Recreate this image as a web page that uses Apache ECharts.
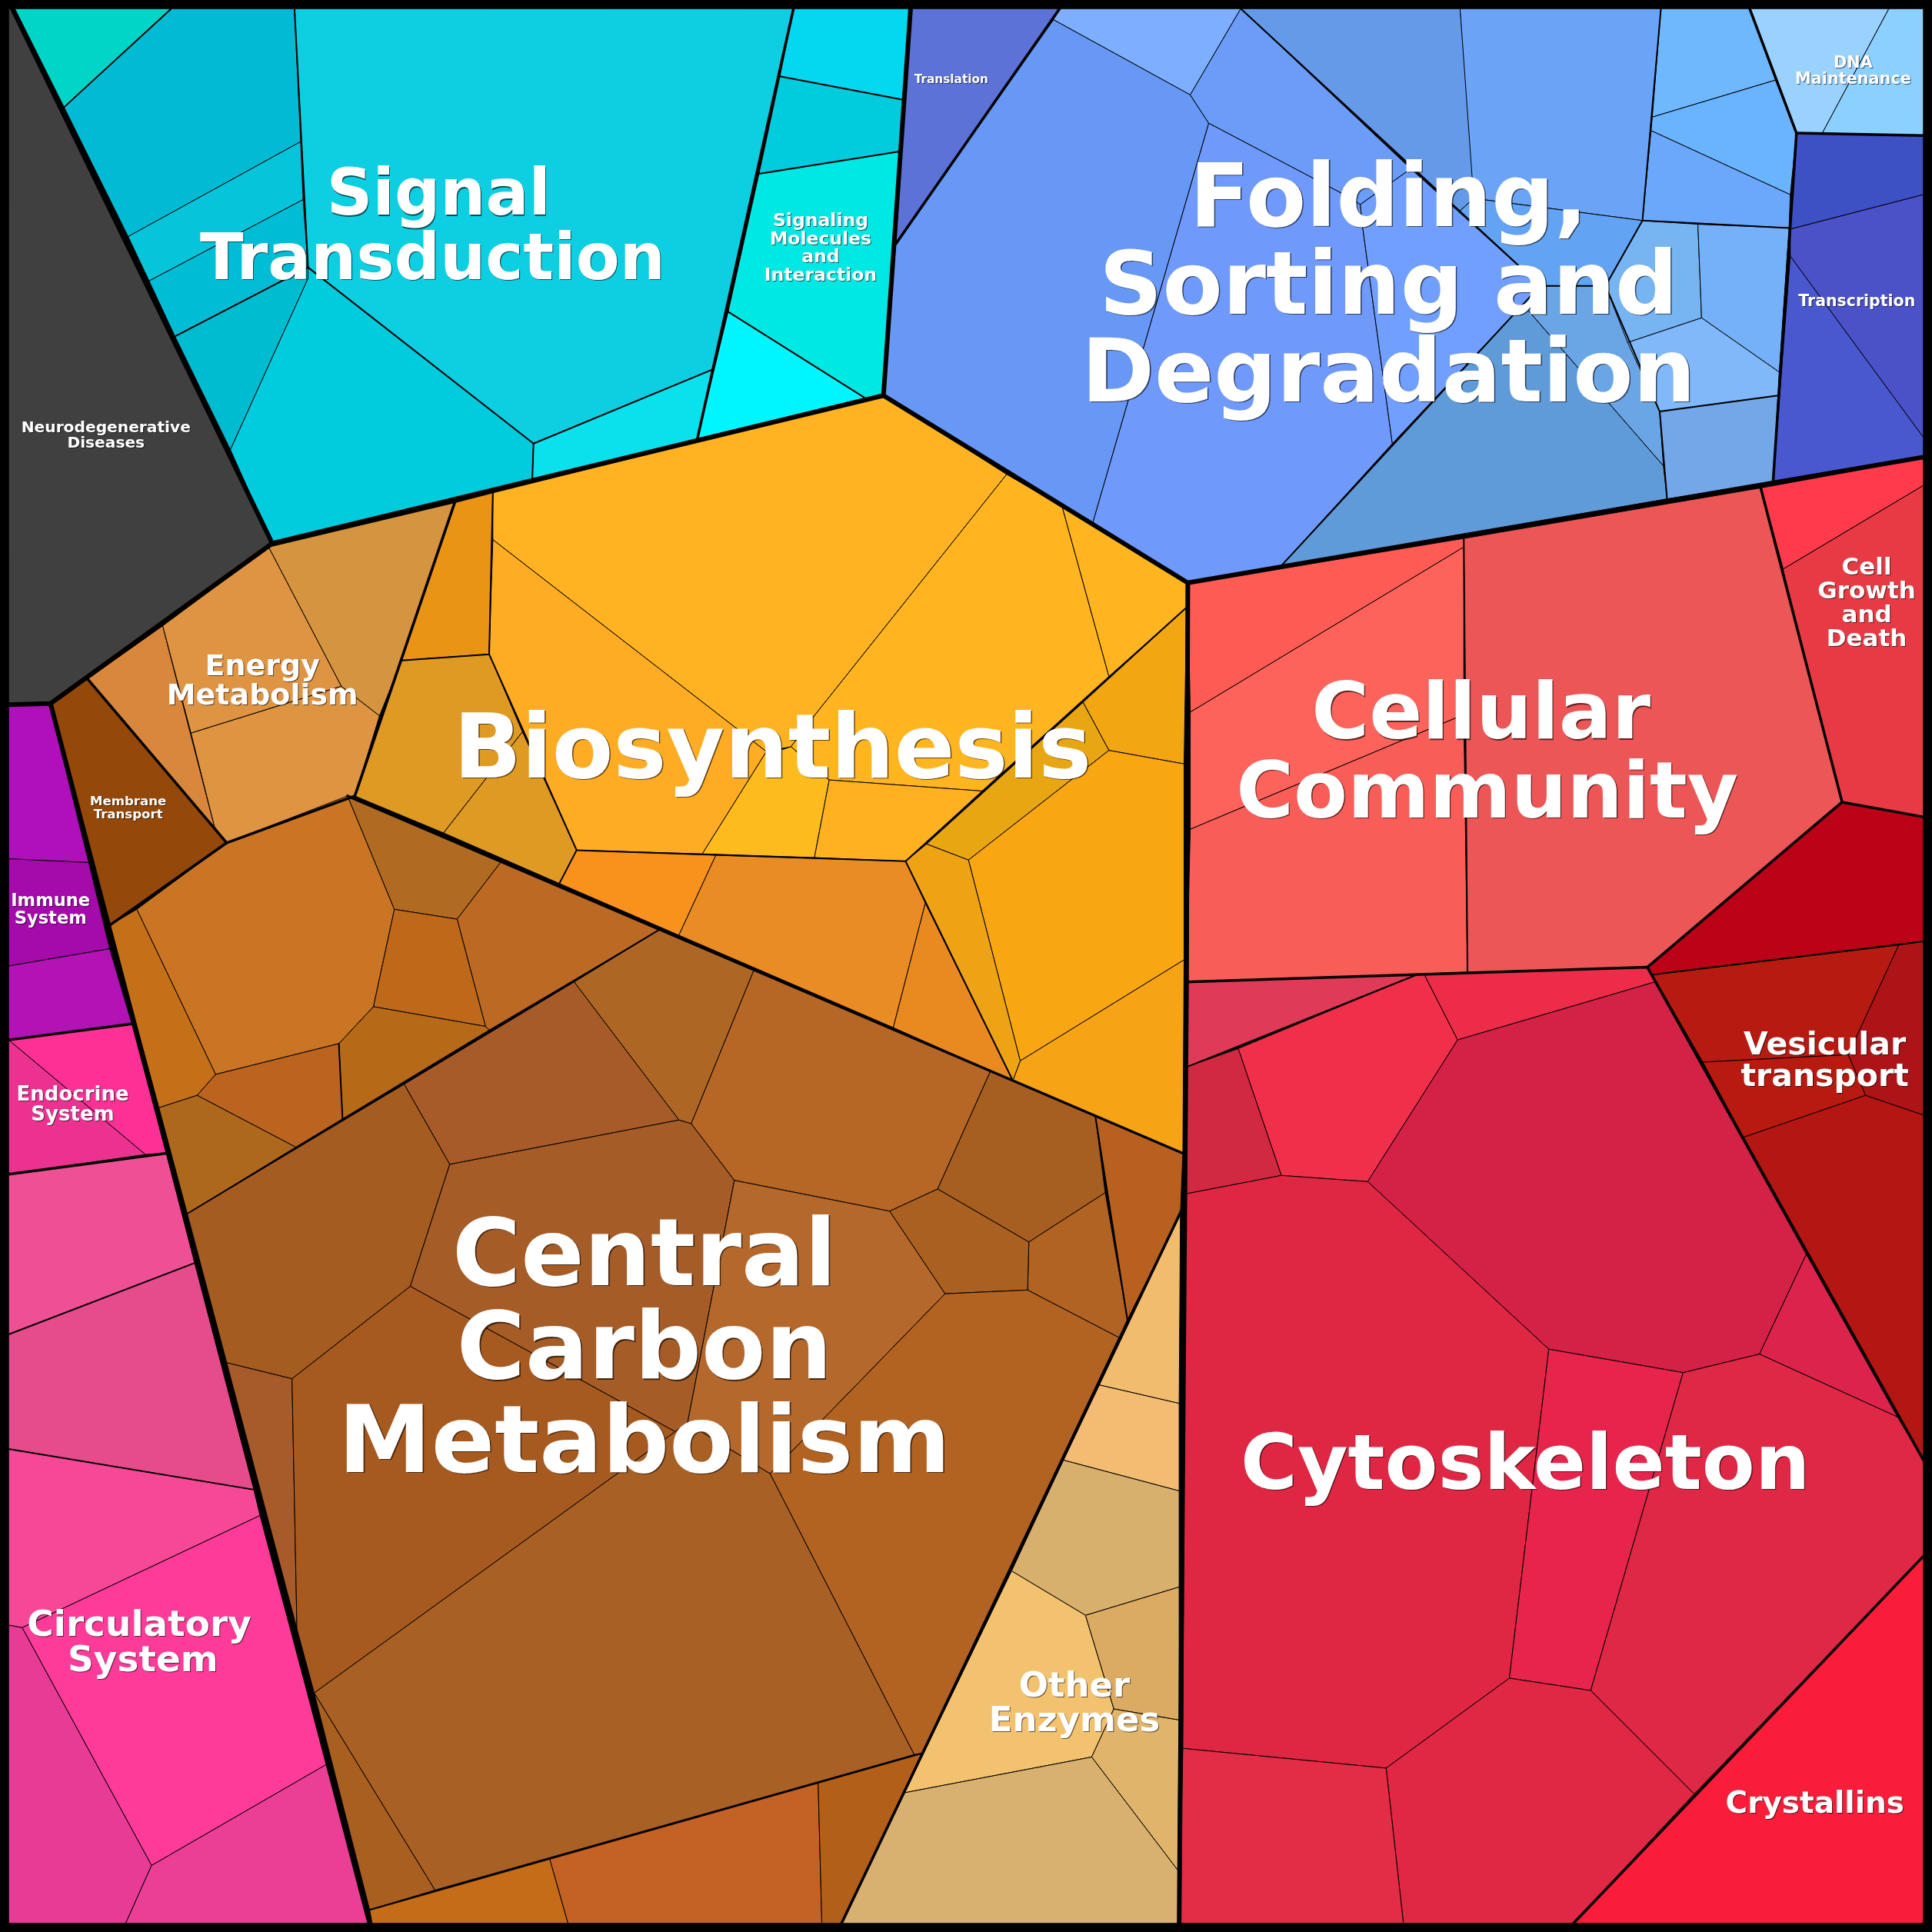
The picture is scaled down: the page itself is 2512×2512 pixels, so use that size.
<!DOCTYPE html>
<html lang="en">
<head>
    <meta charset="UTF-8">
    <title>Proteomap</title>
    <script type="text/javascript" src="https://cdnjs.cloudflare.com/ajax/libs/echarts/6.0.0/echarts.min.js"></script>
    <style>
        html, body { margin: 0; background: #000; }
    </style>
</head>
<body>
    <div id="main" style="width: 2512px;height:2512px;"></div>
    <script type="text/javascript">
        // cell outlines in treemap units (0 - 1568)
        const signalCells = [
            [[12,7],[139,7],[52,87]],
            [[139,7],[239,7],[244,115],[104,192],[52,87]],
            [[244,115],[246,162],[121,228],[104,192]],
            [[246,162],[250,217],[142,273],[121,228]],
            [[250,217],[250,226],[187,365],[142,273]],
            [[250,217],[433,360],[432,389],[221,441],[187,365],[250,226]],
            [[239,7],[644,7],[578,300],[433,360],[250,217]],
            [[433,360],[578,300],[566,356],[432,389]],
            [[644,7],[739,7],[733,81],[633,62]],
            [[633,62],[733,81],[730,123],[616,141]],
            [[616,141],[730,123],[717,321],[702,323],[591,253]],
            [[591,253],[702,323],[566,356]]
        ];
        const geneticCells = [
            [[739,7],[860,7],[727,198]],
            [[859,7],[1007,7],[966,77],[855,16]],
            [[727,198],[855,16],[966,77],[981,100],[887,424],[717,321]],
            [[1007,7],[1145,137],[1104,166],[1091,158],[981,100],[966,77]],
            [[981,100],[1091,158],[1104,166],[1106,185],[1130,360],[1040,459],[964,473],[887,424]],
            [[1104,166],[1145,137],[1232,215],[1250,232],[1236,247],[1130,360],[1106,185]],
            [[1007,7],[1185,7],[1196,146],[1196,161],[1184,172]],
            [[1185,7],[1348,7],[1333,179],[1196,161]],
            [[1196,161],[1333,179],[1303,232],[1250,232],[1184,172]],
            [[1236,247],[1350,378],[1353,405],[1040,459]],
            [[1250,232],[1303,232],[1347,334],[1350,378],[1236,247]],
            [[1348,7],[1420,7],[1441,65],[1341,95]],
            [[1341,95],[1441,65],[1458,108],[1453,158],[1340,106]],
            [[1340,106],[1453,158],[1452,185],[1333,179]],
            [[1333,179],[1378,182],[1381,258],[1321,278],[1303,232]],
            [[1378,182],[1452,185],[1444,302],[1381,258]],
            [[1381,258],[1444,302],[1443,321],[1347,334],[1321,278]],
            [[1347,334],[1443,321],[1439,391],[1353,405]],
            [[1420,7],[1533,7],[1479,108],[1458,108]],
            [[1533,7],[1561,7],[1561,110],[1479,108]],
            [[1458,108],[1561,110],[1561,158],[1453,186]],
            [[1453,186],[1561,158],[1561,355],[1453,208]],
            [[1453,208],[1561,355],[1561,371],[1439,391]]
        ];
        const energyCells = [
            [[218,444],[369,408],[326,536],[308,581],[277,557]],
            [[218,444],[277,557],[155,595],[132,508]],
            [[155,595],[277,557],[308,581],[288,646],[184,684],[174,671]],
            [[71,551],[132,508],[174,671],[184,684]],
            [[41,571],[71,551],[184,684],[89,751]]
        ];
        const biosynthesisCells = [
            [[369,408],[400,400],[397,531],[326,536]],
            [[326,536],[397,531],[424,594],[360,676],[288,646]],
            [[424,594],[468,690],[454,717],[360,676]],
            [[400,400],[717,321],[817,385],[660,582],[642,606],[622,610],[400,438]],
            [[400,438],[622,610],[570,693],[468,690],[397,531]],
            [[622,610],[636,608],[642,606],[673,633],[661,696],[570,693]],
            [[817,385],[862,411],[900,549],[797,642],[673,633],[642,606],[660,582]],
            [[673,633],[797,642],[735,699],[661,696]],
            [[862,411],[964,473],[963,493],[900,549]],
            [[963,493],[961,620],[900,609],[879,570]],
            [[879,570],[900,609],[786,698],[752,685]],
            [[900,609],[961,620],[961,779],[828,861],[786,698]],
            [[961,779],[960,936],[822,877],[828,861]],
            [[735,699],[752,685],[786,698],[828,861],[822,877]],
            [[468,690],[581,694],[551,759],[454,717]],
            [[581,694],[735,699],[751,733],[725,834],[551,759]],
            [[751,733],[822,877],[725,834]]
        ];
        const carbonCells = [
            [[282,646],[407,699],[371,746],[320,738]],
            [[407,699],[536,754],[397,836],[394,833],[371,746]],
            [[320,738],[371,746],[394,833],[303,817]],
            [[303,817],[394,833],[397,836],[278,908],[275,847]],
            [[184,684],[282,646],[320,738],[303,817],[275,847],[175,872],[111,738]],
            [[89,751],[111,738],[175,872],[160,889],[129,899]],
            [[160,889],[175,872],[275,847],[278,908],[240,931]],
            [[129,899],[160,889],[240,931],[152,985]],
            [[536,754],[612,787],[561,912],[551,909],[466,797]],
            [[466,797],[551,909],[365,945],[328,880]],
            [[612,787],[804,869],[761,965],[722,983],[596,958],[561,912]],
            [[804,869],[889,906],[897,968],[835,1008],[761,965]],
            [[889,906],[960,936],[958,985],[915,1071]],
            [[897,968],[915,1071],[909,1086],[834,1047],[835,1008]],
            [[761,965],[835,1008],[834,1047],[767,1050],[722,983]],
            [[152,985],[328,880],[365,945],[333,1044],[237,1119],[184,1106]],
            [[365,945],[551,909],[561,912],[596,958],[558,1155],[548,1162],[333,1044]],
            [[184,1106],[237,1119],[241,1322]],
            [[333,1044],[548,1162],[255,1374],[241,1322],[237,1119]],
            [[548,1162],[558,1155],[625,1196],[742,1424],[353,1534],[255,1374]],
            [[596,958],[722,983],[767,1050],[625,1196],[558,1155]],
            [[767,1050],[834,1047],[909,1086],[915,1071],[748,1423],[742,1424],[625,1196]],
            [[255,1374],[353,1534],[300,1550]],
            [[300,1550],[446,1508],[461,1561],[302,1561]],
            [[446,1508],[664,1447],[667,1561],[461,1561]],
            [[664,1447],[748,1423],[683,1561],[667,1561]]
        ];
        const enzymeCells = [
            [[958,985],[957,1139],[892,1124]],
            [[892,1124],[957,1139],[957,1210],[863,1185]],
            [[863,1185],[957,1210],[957,1288],[881,1311],[821,1275]],
            [[821,1275],[881,1311],[904,1387],[886,1426],[734,1455]],
            [[881,1311],[957,1288],[957,1396],[904,1387]],
            [[904,1387],[957,1396],[956,1518],[886,1426]],
            [[734,1455],[886,1426],[956,1518],[956,1561],[683,1561]]
        ];
        const cellularCells = [
            [[964,474],[1188,437],[1188,444],[966,578]],
            [[966,578],[1188,444],[1188,580],[966,673]],
            [[966,673],[1188,580],[1191,789],[963,797]],
            [[1188,437],[1429,396],[1495,651],[1337,785],[1191,789]],
            [[1429,396],[1561,372],[1561,394],[1447,462]],
            [[1447,462],[1561,394],[1561,663],[1495,651]],
            [[1337,785],[1495,651],[1561,663],[1561,764],[1341,791]],
            [[1341,791],[1541,767],[1500,856],[1382,862]],
            [[1541,767],[1561,764],[1561,905],[1514,889],[1500,856]],
            [[1382,862],[1500,856],[1514,889],[1415,923]],
            [[1415,923],[1514,889],[1561,905],[1561,1185]]
        ];
        const cytoskeletonCells = [
            [[964,797],[1150,791],[963,866]],
            [[963,866],[1005,851],[1040,954],[962,969]],
            [[1005,851],[1150,791],[1156,791],[1183,844],[1110,959],[1040,954]],
            [[1156,791],[1337,785],[1343,797],[1183,844]],
            [[1183,844],[1343,797],[1466,1018],[1428,1099],[1366,1114],[1257,1095],[1110,959]],
            [[1466,1018],[1540,1150],[1428,1099]],
            [[962,969],[1040,954],[1110,959],[1257,1095],[1225,1362],[1125,1435],[960,1419]],
            [[1257,1095],[1366,1114],[1291,1372],[1225,1362]],
            [[1366,1114],[1428,1099],[1540,1150],[1561,1185],[1561,1263],[1375,1456],[1291,1372]],
            [[1225,1362],[1291,1372],[1375,1456],[1277,1561],[1139,1561],[1125,1435]],
            [[960,1419],[1125,1435],[1139,1561],[957,1561]],
            [[1561,1263],[1561,1561],[1277,1561],[1375,1456]]
        ];
        const organismalCells = [
            [[7,7],[10,7],[221,441],[41,571],[7,572]],
            [[7,571],[40,571],[72,700],[7,697]],
            [[7,697],[72,700],[89,770],[7,784]],
            [[7,784],[89,770],[107,831],[7,844]],
            [[7,844],[107,831],[135,936],[118,937]],
            [[7,844],[118,937],[7,953]],
            [[7,953],[135,936],[158,1025],[7,1083]],
            [[7,1083],[158,1025],[206,1209],[7,1176]],
            [[7,1176],[206,1209],[211,1230],[18,1321],[7,1319]],
            [[18,1321],[211,1230],[265,1432],[123,1514]],
            [[7,1319],[18,1321],[123,1514],[102,1561],[7,1561]],
            [[123,1514],[265,1432],[300,1561],[102,1561]]
        ];

        // borders between groups, from the outermost level inwards
        const familyBorders = [
            [[10,7],[221,441],[41,571],[7,572]],
            [[739,7],[717,321]],
            [[221,441],[717,321],[964,473],[1561,371]],
            [[41,571],[300,1561]],
            [[964,473],[963,797],[957,1561]]
        ];
        const pathwayBorders = [
            [[644,7],[566,356]],
            [[860,7],[727,198]],
            [[1420,7],[1458,108],[1439,391]],
            [[1458,108],[1561,110]],
            [[369,408],[288,646],[184,684],[71,551]],
            [[184,684],[89,751]],
            [[282,646],[960,936]],
            [[960,980],[683,1561]],
            [[7,844],[107,831]],
            [[7,953],[135,936]],
            [[963,797],[1337,785],[1561,1185]],
            [[1337,785],[1495,651],[1429,396]],
            [[1495,651],[1561,663]],
            [[1561,1263],[1277,1561]]
        ];
        const groupBorders = [
            [[139,7],[52,87]],
            [[239,7],[250,217],[142,273]],
            [[250,217],[433,360],[578,300]],
            [[433,360],[432,389]],
            [[633,62],[733,81]],
            [[616,141],[730,123]],
            [[591,253],[702,323]],
            [[1007,7],[1232,215],[1250,232],[1303,232]],
            [[1250,232],[1040,459]],
            [[1348,7],[1333,179],[1452,185]],
            [[1333,179],[1303,232],[1347,334],[1353,405]],
            [[1347,334],[1443,321]],
            [[400,400],[397,531],[326,536]],
            [[397,531],[468,690],[454,717]],
            [[468,690],[735,699],[963,493]],
            [[735,699],[822,877]],
            [[536,754],[152,985]],
            [[889,906],[915,1071]],
            [[300,1550],[748,1423]],
            [[275,847],[278,908]],
            [[7,1176],[206,1209]],
            [[7,1083],[158,1025]],
            [[963,866],[1150,791]],
            [[1188,437],[1191,789]],
            [[1341,791],[1561,764]],
            [[1447,462],[1429,396]]
        ];

        const labelNames = [
            'Signal', 'Transduction', 'Folding,\nSorting and\nDegradation', 'Biosynthesis',
            'Central\nCarbon\nMetabolism', 'Cytoskeleton', 'Cellular', 'Community',
            'Circulatory', 'System', 'Energy\nMetabolism', 'Other\nEnzymes',
            'Vesicular\ntransport', 'Crystallins', 'Cell\nGrowth\nand\nDeath',
            'Signaling\nMolecules\nand\nInteraction', 'Neurodegenerative\nDiseases',
            'Endocrine\nSystem', 'Immune\nSystem', 'Membrane\nTransport',
            'Translation', 'Transcription', 'DNA\nMaintenance'
        ];
        const labelX = [356, 351, 1127, 627, 523, 1238, 1202, 1207, 113, 116, 213, 872, 1481, 1473, 1515, 666, 86, 59, 41, 104, 772, 1507, 1504];
        const labelY = [161, 213, 236, 612, 1099, 1192, 583, 647, 1320, 1349, 554, 1384, 862, 1465, 490, 202, 354, 897, 739, 656, 65, 245, 58];

        // styling, kept apart from the values above
        const labelSizes = [83, 83, 114, 116, 121.5, 100.6, 102, 102, 47, 47, 38, 45, 41, 39, 31, 23.5, 20.2, 26, 22.6, 16.6, 15.3, 20.5, 20.8];
        const signalColours = ['#00D5C8','#00BBD3','#06C4DA','#00BDD6','#00BCD0','#00CCDD','#0DCFE1','#0BE1EC','#04D8F0','#00CCDD','#00E8E4','#00F6FF'];
        const geneticColours = ['#5C72D6','#7DAEFF','#6898F5','#6B9CF7','#6F9AFB','#709FFF','#659AE9','#6BA4F7','#62A3F3','#5F9AD9','#6AA5E6','#6FB8FE','#6AB4FF','#6BA8FC','#77B4F2','#74B1F8','#80B8F9','#73A7E8','#9AD2FF','#8BD0FF','#3D50C4','#4B52C8','#4958CF'];
        const energyColours = ['#D59440','#DE9442','#DF9442','#D8873D','#94490A'];
        const biosynthesisColours = ['#EA9415','#DF9A23','#DF9A24','#FFB323','#FEAC23','#FEBB1D','#FFB51F','#FFB120','#FFB51F','#F2A612','#E9A613','#F9A613','#F6A416','#EEA315','#F9921D','#EA8C24','#E98A21'];
        const carbonColours = ['#B16A21','#BC6923','#BE6819','#B66A18','#CA7524','#C47018','#BB641F','#AE681C','#AD6624','#A75B29','#B66625','#A75E21','#B8601F','#B06322','#A96020','#A55C20','#A55C27','#A85B2A','#A65A20','#A86025','#B5682C','#B26221','#A95F20','#C56C19','#C46124','#B25F19'];
        const enzymeColours = ['#F2BC6E','#F3BC72','#D8B06E','#F3C26F','#DBAB63','#E0B46A','#D8B06F'];
        const cellularColours = ['#FE5B55','#FE635B','#F95D58','#EC5656','#FE3A4C','#E73A44','#BB0217','#B71A11','#AD1417','#B91A10','#B31613'];
        const cytoskeletonColours = ['#DF3B59','#D22942','#F02F4A','#EC2C48','#D32246','#DC234C','#DF2744','#E7244C','#DF2845','#E02844','#E32C46','#F91D3A'];
        const organismalColours = ['#404040','#B010BA','#A50AAB','#B312B5','#FD3095','#EC3291','#EF5095','#E64C8C','#F64897','#FE3B98','#E73B96','#EB3F96'];

        const cells = [].concat(signalCells, geneticCells, energyCells, biosynthesisCells, carbonCells,
            enzymeCells, cellularCells, cytoskeletonCells, organismalCells);
        const colours = [].concat(signalColours, geneticColours, energyColours, biosynthesisColours, carbonColours,
            enzymeColours, cellularColours, cytoskeletonColours, organismalColours);

        const borderTiers = [
            { lines: groupBorders, width: 2 },
            { lines: pathwayBorders, width: 3.5 },
            { lines: familyBorders, width: 6 }
        ];

        const myChart = echarts.init(document.getElementById('main'));
        const option = {
            backgroundColor: '#000',
            animation: false,
            grid: { left: 0, right: 0, top: 0, bottom: 0 },
            xAxis: { type: 'value', min: 0, max: 1568, show: false },
            yAxis: { type: 'value', min: 0, max: 1568, inverse: true, show: false },
            series: [
                {
                    type: 'custom',
                    silent: true,
                    clip: false,
                    data: cells.map(function (c, i) { return [i]; }),
                    renderItem: function (params, api) {
                        const i = api.value(0);
                        return {
                            type: 'polygon',
                            shape: { points: cells[i].map(function (p) { return api.coord(p); }) },
                            style: { fill: colours[i], stroke: '#000', lineWidth: 1, lineJoin: 'round' }
                        };
                    }
                }
            ].concat(borderTiers.map(function (tier) {
                return {
                    type: 'custom',
                    silent: true,
                    clip: false,
                    data: tier.lines.map(function (l, i) { return [i]; }),
                    renderItem: function (params, api) {
                        return {
                            type: 'polyline',
                            shape: { points: tier.lines[api.value(0)].map(function (p) { return api.coord(p); }) },
                            style: { fill: null, stroke: '#000', lineWidth: tier.width, lineJoin: 'round', lineCap: 'round' }
                        };
                    }
                };
            }), [
                {
                    type: 'custom',
                    silent: true,
                    clip: false,
                    data: labelNames.map(function (n, i) { return [labelX[i], labelY[i], i]; }),
                    renderItem: function (params, api) {
                        const i = api.value(2);
                        const pos = api.coord([api.value(0), api.value(1)]);
                        const size = labelSizes[i];
                        const drop = Math.max(1, size / 75);
                        return {
                            type: 'text',
                            style: {
                                x: pos[0],
                                y: pos[1],
                                text: labelNames[i],
                                fill: '#fff',
                                align: 'center',
                                verticalAlign: 'middle',
                                font: 'bold ' + size + 'px "DejaVu Sans"',
                                lineHeight: size,
                                // zrender skips the shadow when the blur is 0
                                textShadowColor: 'rgba(0,0,0,0.6)',
                                textShadowBlur: 0.5,
                                textShadowOffsetX: drop,
                                textShadowOffsetY: drop
                            }
                        };
                    }
                }
            ])
        };
        myChart.setOption(option);
    </script>
</body>
</html>
